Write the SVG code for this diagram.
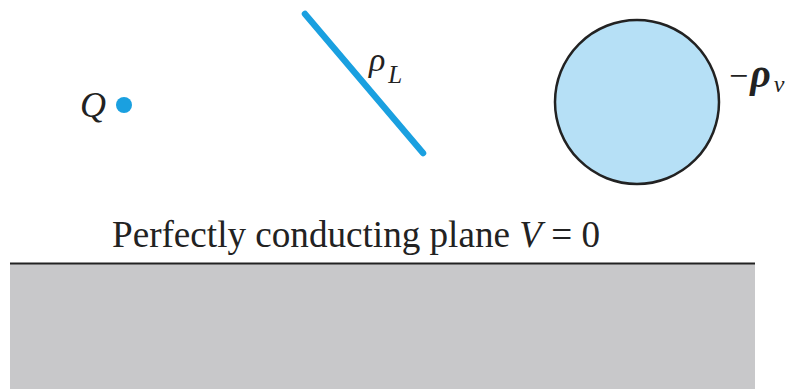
<svg xmlns="http://www.w3.org/2000/svg" width="795" height="389" viewBox="0 0 795 389">
<style>
text{font-family:"Times New Roman","Liberation Serif",serif;fill:#222}
.i{font-style:italic}
</style>
<rect width="795" height="389" fill="#fff"/>
<g id="plane">
<rect x="10" y="263" width="745" height="126" fill="#c8c8ca"/>
<line x1="10" y1="263.5" x2="755" y2="263.5" stroke="#222" stroke-width="2"/>
<text x="112" y="247" font-size="37" textLength="488" lengthAdjust="spacingAndGlyphs">Perfectly conducting plane <tspan class="i">V</tspan> = 0</text>
</g>
<g id="Q">
<circle cx="124" cy="105" r="8" fill="#1aa0e0"/>
<text class="i" x="80" y="117" font-size="36">Q</text>
</g>
<g id="line">
<line x1="305" y1="14" x2="423" y2="153" stroke="#1aa0e0" stroke-width="6.5" stroke-linecap="round"/>
<text class="i" x="369" y="71" font-size="34">ρ<tspan font-size="25" dx="3" dy="12">L</tspan></text>
</g>
<g id="sphere">
<circle cx="637" cy="102" r="82" fill="#b6e0f6" stroke="#222" stroke-width="2.5"/>
<text x="729" y="87" font-size="34">−<tspan class="i" font-weight="bold" font-size="40" dx="2">ρ</tspan><tspan class="i" font-size="24" dx="3" dy="5">v</tspan></text>
</g>
</svg>
